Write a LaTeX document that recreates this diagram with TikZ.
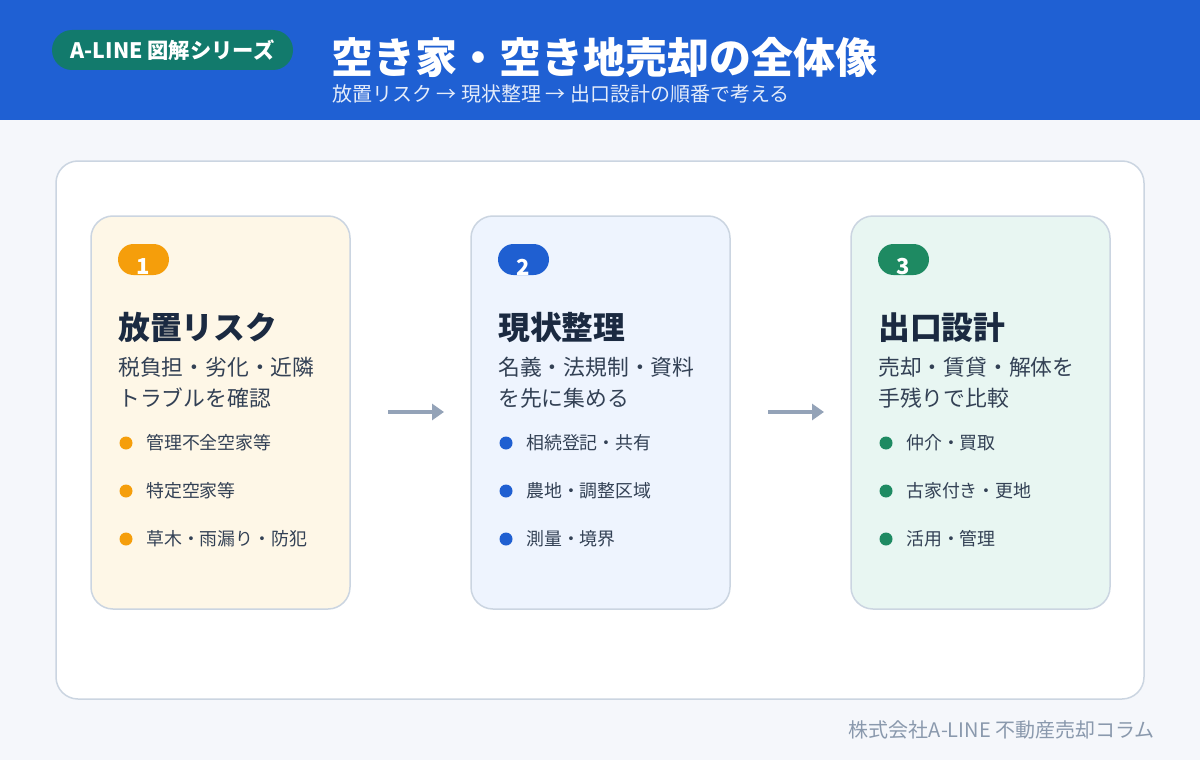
\documentclass[tikz,border=0pt]{standalone}
\usepackage{fontspec}
\setmainfont{Noto Sans CJK JP}
\usetikzlibrary{arrows.meta}
\definecolor{hdr}{HTML}{1F60D3}
\definecolor{bg}{HTML}{F5F7FB}
\definecolor{badge}{HTML}{127A6C}
\definecolor{edge}{HTML}{CBD5E1}
\definecolor{navy}{HTML}{1B2A41}
\definecolor{body}{HTML}{334155}
\definecolor{gray}{HTML}{94A3B8}
\definecolor{foot}{HTML}{8A99AD}
\definecolor{orangeA}{HTML}{F59E0B}
\definecolor{blueA}{HTML}{1F5FD1}
\definecolor{greenA}{HTML}{1E8A62}
\definecolor{fillA}{HTML}{FEF7E7}
\definecolor{fillB}{HTML}{EEF4FE}
\definecolor{fillC}{HTML}{E8F6F2}
\tikzset{
  card/.style={draw=edge, line width=1.5pt, rounded corners=22pt},
  numtxt/.style={text=white, font=\fontsize{22}{22}\selectfont\bfseries, anchor=center, inner sep=0pt},
  ctitle/.style={text=navy, font=\fontsize{31.8}{31.8}\selectfont\bfseries, anchor=west, inner sep=0pt},
  cdesc/.style={text=body, font=\fontsize{21.8}{21.8}\selectfont, anchor=west, inner sep=0pt},
  bultxt/.style={text=body, font=\fontsize{17.9}{17.9}\selectfont, anchor=west, inner sep=0pt},
  flow/.style={draw=gray, line width=3.5pt, -{Triangle[length=12pt,width=16pt]}},
}
\begin{document}
\begin{tikzpicture}[x=1pt,y=-1pt]
\useasboundingbox (0,0) rectangle (1200,760);
\fill[bg] (0,0) rectangle (1200,760);
\fill[hdr] (0,0) rectangle (1200,120);
% badge
\node[fill=badge, rounded corners=20pt, minimum width=241pt, minimum height=40pt, inner sep=0pt,
  text=white, font=\fontsize{21.3}{21.3}\selectfont\bfseries] (badge) at (172.5,50) {A-LINE 図解シリーズ};
\node[text=white, font=\fontsize{42}{42}\selectfont\bfseries, anchor=west, inner sep=0pt] (title) at (331,58) {空き家・空き地売却の全体像};
\node[text=white!88!hdr, font=\fontsize{20}{20}\selectfont, anchor=west, inner sep=0pt] (sub) at (332,94) {放置リスク → 現状整理 → 出口設計の順番で考える};
% outer panel
\draw[draw=edge, line width=1.5pt, fill=white, rounded corners=22pt] (56,161) rectangle (1144,699);
% cards
\foreach \x/\fc/\pc/\n in {91/fillA/orangeA/1, 471/fillB/blueA/2, 851/fillC/greenA/3}{
  \draw[card, fill=\fc] (\x,216) rectangle ++(259,393);
  \fill[\pc, rounded corners=15.5pt] (\x+27,244) rectangle ++(51,31);
  \node[numtxt] at (\x+52,267) {\n};
}
% card 1
\node[ctitle] (t1) at (118,327) {放置リスク};
\node[cdesc] (d1a) at (118,367) {税負担・劣化・近隣};
\node[cdesc] (d1b) at (118,398) {トラブルを確認};
\foreach \y/\t in {443/管理不全空家等, 491/特定空家等, 539/草木・雨漏り・防犯}{
  \fill[orangeA] (126,\y) circle (6.5pt);
  \node[bultxt] at (146,\y) {\t};
}
% card 2
\node[ctitle] (t2) at (498,327) {現状整理};
\node[cdesc] (d2a) at (498,367) {名義・法規制・資料};
\node[cdesc] (d2b) at (498,398) {を先に集める};
\foreach \y/\t in {443/相続登記・共有, 491/農地・調整区域, 539/測量・境界}{
  \fill[blueA] (506,\y) circle (6.5pt);
  \node[bultxt] at (526,\y) {\t};
}
% card 3
\node[ctitle] (t3) at (878,327) {出口設計};
\node[cdesc] (d3a) at (878,367) {売却・賃貸・解体を};
\node[cdesc] (d3b) at (878,398) {手残りで比較};
\foreach \y/\t in {443/仲介・買取, 491/古家付き・更地, 539/活用・管理}{
  \fill[greenA] (886,\y) circle (6.5pt);
  \node[bultxt] at (906,\y) {\t};
}
% arrows
\coordinate (a1s) at (388,412); \coordinate (a1e) at (444,412);
\coordinate (a2s) at (768,412); \coordinate (a2e) at (824,412);
\draw[flow] (a1s) -- (a1e);
\draw[flow] (a2s) -- (a2e);
% footer
\node[text=foot, font=\fontsize{20}{20}\selectfont, anchor=east, inner sep=0pt] (foot) at (1155,730) {株式会社A-LINE 不動産売却コラム};
\end{tikzpicture}
\end{document}
